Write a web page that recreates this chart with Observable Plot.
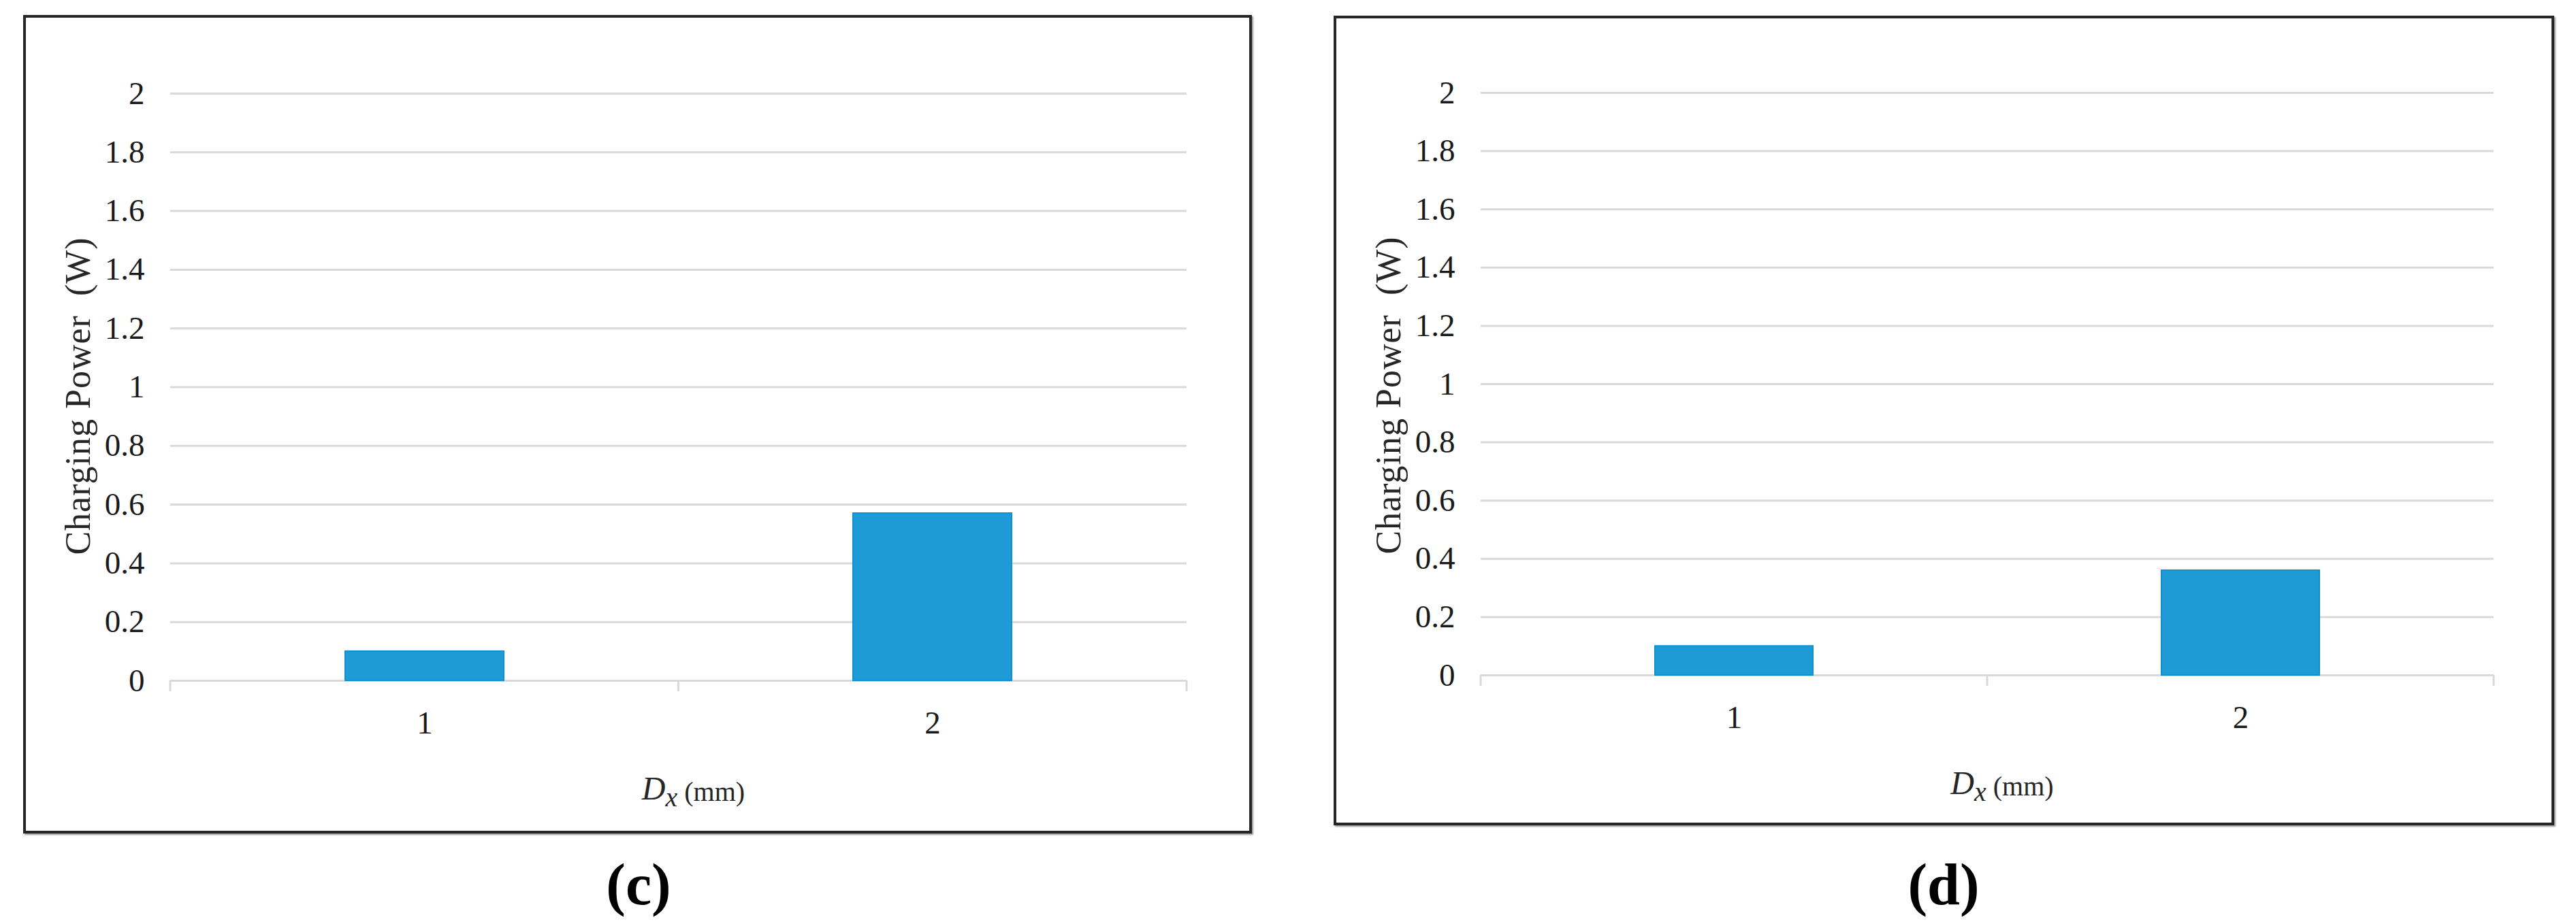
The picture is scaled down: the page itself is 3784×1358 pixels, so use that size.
<!DOCTYPE html>
<html>
<head>
<meta charset="utf-8">
<script src="https://cdn.jsdelivr.net/npm/d3@7"></script>
<script src="https://cdn.jsdelivr.net/npm/@observablehq/plot@0.6"></script>
<style>
  html, body { margin: 0; padding: 0; background: #fff; }
  body { width: 3784px; height: 1358px; position: relative; overflow: hidden; font-family: "Liberation Serif", serif; }
  .panel { position: absolute; box-sizing: border-box; border: 4px solid #262626; box-shadow: 2px 2px 2px #9a9a9a; background: #fff; }
  .panel svg { display: block; }
  .cap { position: absolute; font-family: "Liberation Serif", serif; font-weight: bold; font-size: 86px; line-height: 1; transform: translate(-50%, -50%); color: #000; }
</style>
</head>
<body>
<div id="pc" class="panel" style="left:34px;top:22px;width:1805px;height:1203px"></div>
<div id="pd" class="panel" style="left:1959px;top:23px;width:1793px;height:1190px"></div>
<div class="cap" style="left:938px;top:1300px">(c)</div>
<div class="cap" style="left:2855px;top:1300px">(d)</div>
<script>
// ---- data ----
const categories = ["1", "2"];          // Dx (mm)
const powerC = [0.10, 0.57];            // panel (c) charging power (W)
const powerD = [0.10, 0.36];            // panel (d) charging power (W)
const yTicks = [0, 0.2, 0.4, 0.6, 0.8, 1, 1.2, 1.4, 1.6, 1.8, 2];
const yTitle = "Charging Power  (W)";

function drawPanel(id, values, m) {
  const el = document.getElementById(id);
  const W = el.clientWidth, H = el.clientHeight;
  const data = categories.map((c, i) => ({cat: c, p: values[i]}));
  const plot = Plot.plot({
    width: W,
    height: H,
    marginLeft: m.left, marginRight: m.right, marginTop: m.top, marginBottom: m.bottom,
    style: {fontFamily: '"Liberation Serif", serif', fontSize: "47px", color: "#1a1a1a", background: "#fff"},
    x: {type: "band", domain: categories, paddingInner: 0.688, paddingOuter: 0.344,
        tickSize: 0, tickPadding: 44, label: null},
    y: {domain: [0, 2], ticks: yTicks, tickSize: 0, tickPadding: 38,
        tickFormat: d => String(d), label: null},
    marks: [
      Plot.ruleY(yTicks, {stroke: "#d9d9d9", strokeWidth: 3}),
      Plot.barY(data, {x: "cat", y: "p", fill: "#1e9bd7", stroke: "#1190d0", strokeWidth: 2})
    ]
  });
  el.appendChild(plot);
  const svg = d3.select(plot);
  const xr = plot.scale("x").range;
  const x0 = Math.min(...xr), x1 = Math.max(...xr);
  const yb = H - m.bottom;
  // category separators below the baseline
  [x0, (x0 + x1) / 2, x1].forEach(xx => {
    svg.append("line").attr("x1", xx).attr("x2", xx).attr("y1", yb).attr("y2", yb + 16)
      .attr("stroke", "#d9d9d9").attr("stroke-width", 3);
  });
  // y-axis title
  svg.append("text")
    .attr("transform", `translate(${m.left - 136},${m.top + 445}) rotate(-90)`)
    .attr("text-anchor", "middle").attr("dominant-baseline", "central")
    .attr("fill", "#262626")
    .style("font-size", "52px").style("letter-spacing", "1px")
    .text(yTitle);
  // x-axis title: D_x (mm)
  const t = svg.append("text")
    .attr("x", (x0 + x1) / 2 + 22).attr("y", yb + 175)
    .attr("text-anchor", "middle").attr("fill", "#262626");
  t.append("tspan").style("font-style", "italic").style("font-size", "48px").text("D");
  t.append("tspan").style("font-style", "italic").style("font-size", "40px").attr("dy", 10).text("x");
  t.append("tspan").style("font-size", "40px").attr("dy", -8).text("\u00a0(mm)");
}

drawPanel("pc", powerC, {left: 212, right: 92, top: 111, bottom: 221});
drawPanel("pd", powerD, {left: 212, right: 85, top: 109, bottom: 217});
</script>
</body>
</html>
